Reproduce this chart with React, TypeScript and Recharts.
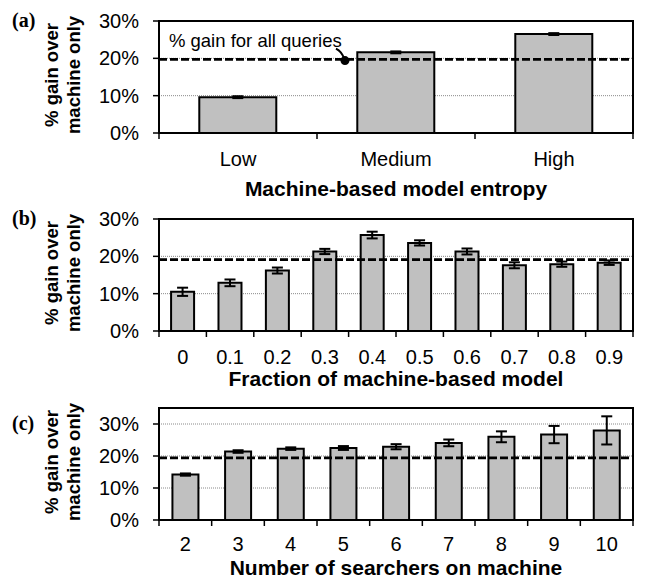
import React from 'react'
import {
  ComposedChart,
  Bar,
  ErrorBar,
  XAxis,
  YAxis,
  CartesianGrid,
  ReferenceLine,
  ReferenceDot,
  ReferenceArea
} from 'recharts'

const SANS = '"Liberation Sans", Arial, sans-serif'
const SERIF = '"Liberation Serif", "Times New Roman", serif'

// (a) entropy of the machine-based model
const entropyLevels = ['Low', 'Medium', 'High']
const entropyGain = [9.6, 21.6, 26.5]
const entropyErr = [0.25, 0.25, 0.25]
const entropyOverall = 19.7

// (b) fraction of machine-based model
const fractionLevels = ['0', '0.1', '0.2', '0.3', '0.4', '0.5', '0.6', '0.7', '0.8', '0.9']
const fractionGain = [10.5, 12.9, 16.2, 21.3, 25.7, 23.6, 21.3, 17.6, 17.9, 18.3]
const fractionErr = [1.1, 0.9, 0.8, 0.7, 0.9, 0.7, 0.8, 0.8, 0.7, 0.6]
const fractionOverall = 19.1

// (c) number of searchers on machine
const searcherLevels = ['2', '3', '4', '5', '6', '7', '8', '9', '10']
const searcherGain = [14.2, 21.4, 22.3, 22.5, 22.9, 24.1, 26.0, 26.7, 28.0]
const searcherErr = [0.35, 0.4, 0.4, 0.6, 0.8, 1.05, 1.7, 2.7, 4.4]
const searcherOverall = 19.4

const yTicks = [0, 10, 20, 30]

// annotation in (a), in category units of the edge axis
const noteText = '% gain for all queries'
const noteLabelAt = { x: 0.063, y: 23.1 }
const noteDotAt = { x: 1.177, y: 19.4 }

const PLOT_H = 112
const TICK_PX = 6

type PanelProps = {
  top: number
  letter: string
  title: string
  labelGap: number
  titleGap: number
  cats: string[]
  gain: number[]
  err: number[]
  overall: number
  yMax: number
  note?: boolean
}

function Panel({ top, letter, title, labelGap, titleGap, cats, gain, err, overall, yMax, note }: PanelProps) {
  // pos = category centre in "category units", used by the edge axis
  const data = cats.map((c, i) => ({ cat: c, pos: i + 0.5, gain: gain[i], err: err[i] }))
  const n = cats.length
  const edges = cats.map((_, i) => i).concat(n)
  const tickDrop = (TICK_PX * yMax) / PLOT_H

  const yTitle = (props: any) => {
    const vb = props.viewBox
    const cy = vb.y + vb.height / 2 - 2
    const y30 = vb.y + vb.height * (1 - 30 / yMax)
    return (
      <g>
        <text x={12} y={y30 + 6} fontFamily={SERIF} fontWeight='bold' fontSize={20} fill='#000'>
          {letter}
        </text>
        <text
          transform={`translate(58,${cy}) rotate(-90)`}
          textAnchor='middle'
          fontFamily={SANS}
          fontWeight='bold'
          fontSize={18.5}
          fill='#000'
        >
          % gain over
        </text>
        <text
          transform={`translate(80,${cy}) rotate(-90)`}
          textAnchor='middle'
          fontFamily={SANS}
          fontWeight='bold'
          fontSize={18.5}
          fill='#000'
        >
          machine only
        </text>
      </g>
    )
  }

  const xTitle = (props: any) => {
    const vb = props.viewBox
    return (
      <text
        x={vb.x + vb.width / 2}
        y={vb.y + titleGap}
        textAnchor='middle'
        fontFamily={SANS}
        fontWeight='bold'
        fontSize={21}
        fill='#000'
      >
        {title}
      </text>
    )
  }

  const catTick = (props: any) => (
    <text x={props.x} y={props.y + labelGap} textAnchor='middle' fontFamily={SANS} fontSize={20} fill='#000'>
      {props.payload.value}
    </text>
  )

  const yTick = (props: any) => (
    <g>
      <line x1={props.x + 14} x2={props.x + 20} y1={props.y} y2={props.y} stroke='#000' strokeWidth={1.5} />
      <text x={props.x} y={props.y} dy='0.355em' textAnchor='end' fontFamily={SANS} fontSize={20} fill='#000'>
        {`${props.payload.value}%`}
      </text>
    </g>
  )

  return (
    <div style={{ position: 'absolute', left: 0, top, width: 646, height: 200 }}>
      <ComposedChart
        width={646}
        height={200}
        data={data}
        margin={{ top: 21, right: 13, bottom: 0, left: 0 }}
        barCategoryGap='25.5%'
      >
        <CartesianGrid vertical={false} stroke='#8a8a8a' strokeDasharray='1 1' />
        <XAxis
          xAxisId='edges'
          dataKey='pos'
          type='number'
          domain={[0, n]}
          allowDataOverflow
          height={0}
          tick={false}
          tickLine={false}
          axisLine={false}
        />
        <XAxis
          dataKey='cat'
          height={67}
          interval={0}
          axisLine={false}
          tickLine={false}
          tickSize={0}
          tickMargin={0}
          tick={catTick}
          label={xTitle}
        />
        <YAxis
          domain={[0, yMax]}
          ticks={yTicks}
          width={159}
          tickSize={6}
          tickMargin={14}
          tick={yTick}
          tickLine={false}
          axisLine={false}
          label={yTitle}
        />
        <Bar dataKey='gain' fill='#c0c0c0' stroke='#000' strokeWidth={2} isAnimationActive={false}>
          <ErrorBar dataKey='err' width={5.5} stroke='#000' strokeWidth={2} direction='y' />
        </Bar>
        <ReferenceLine y={overall} stroke='#000' strokeWidth={2.7} strokeDasharray='8 3' />
        {edges.map((k) => (
          <ReferenceLine
            key={`edge-${k}`}
            xAxisId='edges'
            segment={[
              { x: k, y: 0 },
              { x: k, y: -tickDrop }
            ]}
            stroke='#000'
            strokeWidth={1.5}
            ifOverflow='visible'
          />
        ))}
        <ReferenceArea
          xAxisId='edges'
          x1={0}
          x2={n}
          y1={0}
          y2={yMax}
          fill='none'
          fillOpacity={0}
          stroke='#000'
          strokeWidth={2}
          ifOverflow='visible'
        />
        {note ? (
          <ReferenceDot
            xAxisId='edges'
            x={noteLabelAt.x}
            y={noteLabelAt.y}
            r={0}
            shape={(p: any) => (
              <text x={p.cx} y={p.cy} fontFamily={SANS} fontSize={18.5} fill='#000'>
                {noteText}
              </text>
            )}
          />
        ) : null}
        {note ? (
          <ReferenceDot
            xAxisId='edges'
            x={noteDotAt.x}
            y={noteDotAt.y}
            r={4}
            shape={(p: any) => (
              <g>
                <path
                  d={`M${p.cx - 9},${p.cy - 12} Q${p.cx - 3},${p.cy - 9} ${p.cx - 1},${p.cy - 2}`}
                  stroke='#000'
                  strokeWidth={2}
                  fill='none'
                />
                <circle cx={p.cx} cy={p.cy} r={4.5} fill='#000' />
              </g>
            )}
          />
        ) : null}
      </ComposedChart>
    </div>
  )
}

export default function App() {
  return (
    <div
      style={{
        position: 'fixed',
        left: 0,
        top: 0,
        width: 646,
        height: 578,
        overflow: 'hidden',
        background: '#fff'
      }}
    >
      <Panel
        top={0}
        letter='(a)'
        title='Machine-based model entropy'
        labelGap={33}
        titleGap={63}
        cats={entropyLevels}
        gain={entropyGain}
        err={entropyErr}
        overall={entropyOverall}
        yMax={30}
        note
      />
      <Panel
        top={198}
        letter='(b)'
        title='Fraction of machine-based model'
        labelGap={33}
        titleGap={55}
        cats={fractionLevels}
        gain={fractionGain}
        err={fractionErr}
        overall={fractionOverall}
        yMax={30}
      />
      <Panel
        top={387}
        letter='(c)'
        title='Number of searchers on machine'
        labelGap={31}
        titleGap={55}
        cats={searcherLevels}
        gain={searcherGain}
        err={searcherErr}
        overall={searcherOverall}
        yMax={35}
      />
    </div>
  )
}
